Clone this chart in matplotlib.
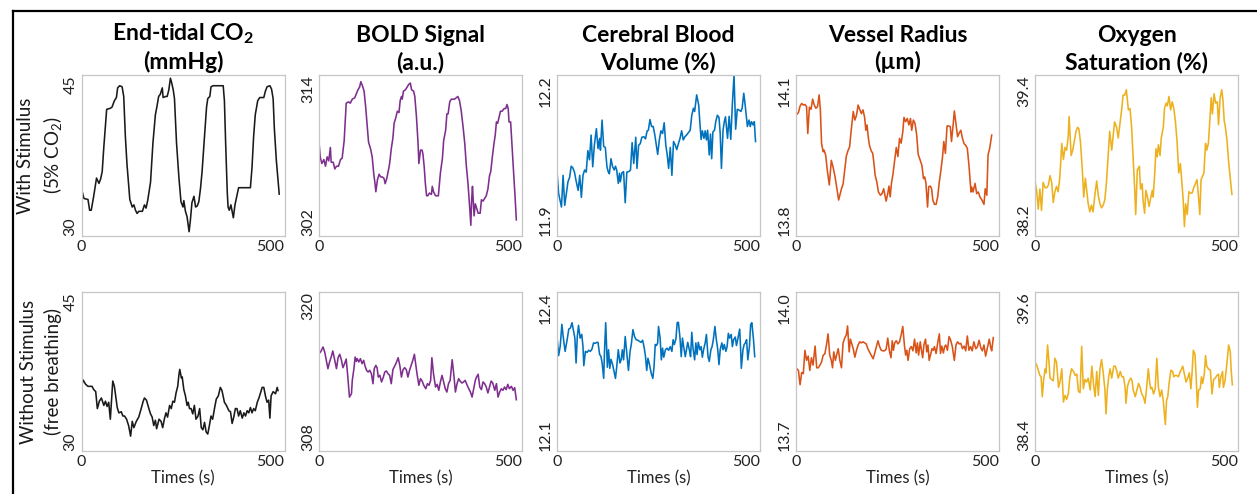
import numpy as np
import matplotlib
matplotlib.use("Agg")
import matplotlib.pyplot as plt
from matplotlib.lines import Line2D

plt.rcParams["font.family"] = ["Lato", "DejaVu Sans"]
plt.rcParams["mathtext.fontset"] = "custom"
plt.rcParams["mathtext.rm"] = "Lato"
plt.rcParams["mathtext.bf"] = "Lato:bold"

# ---- end-tidal CO2 (mmHg) ----
co2StimT = [0, 6, 16, 20, 24, 30, 37, 43, 47, 51, 55, 62, 71, 75, 81, 86, 89, 94, 100, 104, 108, 112, 119, 125, 129,
            133, 137, 141, 150, 155, 159, 163, 170, 176, 182, 186, 190, 194, 199, 201, 207, 211, 215, 219, 222, 226,
            229, 234, 240, 245, 250, 252, 256, 260, 265, 268, 272, 277, 281, 285, 289, 293, 297, 303, 308, 311, 316,
            319, 324, 349, 352, 355, 359, 361, 364, 368, 374, 378, 383, 387, 408, 416, 420, 424, 428, 434, 439, 449,
            453, 457, 464, 468, 472, 475, 480, 487]
co2Stim = [34.4, 33.5, 33.4, 32.4, 32.4, 33.7, 35.4, 34.9, 35.3, 36.0, 38.3, 41.8, 41.9, 42.0, 42.6, 42.9, 43.8, 44.0,
           43.9, 43.0, 39.3, 36.7, 33.4, 32.7, 32.9, 32.4, 32.1, 32.3, 32.3, 32.9, 32.6, 33.3, 35.0, 38.7, 41.3, 42.1,
           43.0, 43.2, 43.8, 42.9, 43.0, 43.0, 43.6, 44.7, 44.3, 43.6, 42.8, 38.7, 35.4, 33.2, 32.7, 33.3, 32.3, 31.8,
           30.4, 31.4, 33.1, 33.7, 32.7, 32.8, 33.2, 34.4, 36.0, 39.3, 42.0, 42.8, 43.0, 43.9, 44.0, 44.0, 42.6, 38.7,
           34.1, 32.7, 32.4, 32.9, 31.7, 32.9, 33.8, 34.5, 34.5, 34.5, 36.4, 39.3, 41.3, 42.6, 42.9, 42.9, 43.5, 43.9,
           44.0, 43.7, 42.8, 40.0, 37.0, 33.9]

co2FreeT = [0, 4, 10, 16, 26, 30, 35, 39, 44, 49, 55, 59, 63, 67, 71, 77, 81, 88, 92, 98, 102, 106, 111, 116, 121, 125,
            129, 135, 141, 147, 152, 155, 160, 166, 170, 174, 178, 182, 185, 191, 196, 200, 204, 208, 212, 217, 221,
            225, 229, 233, 237, 240, 242, 246, 248, 252, 256, 260, 263, 266, 270, 274, 278, 282, 287, 291, 295, 299,
            303, 307, 311, 315, 319, 323, 328, 332, 337, 342, 346, 352, 357, 363, 367, 371, 375, 379, 383, 387, 391,
            396, 400, 404, 408, 412, 416, 420, 424, 428, 433, 437, 441, 445, 449, 453, 457, 461, 464, 467, 472, 475,
            478, 482, 484]
co2Free = [36.1, 36.7, 36.3, 36.1, 36.1, 35.8, 35.6, 34.0, 34.7, 35.0, 34.3, 34.7, 34.2, 34.6, 33.0, 36.6, 36.1, 34.1,
           33.6, 33.7, 33.3, 33.3, 33.0, 32.4, 31.4, 32.8, 32.2, 32.8, 33.2, 34.0, 34.7, 35.0, 34.8, 34.0, 33.5, 33.2,
           32.4, 32.9, 32.1, 33.0, 32.8, 32.2, 33.0, 33.6, 33.2, 34.3, 34.0, 34.7, 34.6, 35.5, 36.1, 37.2, 37.7, 36.9,
           37.0, 35.8, 35.2, 34.3, 34.6, 34.0, 34.0, 33.5, 34.3, 33.0, 33.3, 34.0, 32.2, 32.0, 32.7, 31.8, 31.6, 32.4,
           33.3, 33.0, 34.1, 34.9, 35.2, 36.0, 35.7, 34.6, 34.3, 33.8, 33.7, 32.6, 33.2, 34.0, 34.0, 33.3, 33.8, 33.1,
           33.6, 33.3, 33.8, 33.6, 34.1, 33.6, 34.0, 33.8, 34.6, 35.0, 35.5, 36.0, 36.0, 35.2, 34.6, 34.8, 33.1, 35.2,
           35.6, 35.5, 35.4, 36.0, 35.7]

# ---- BOLD signal (a.u.) ----
boldStimT = [0, 3, 7, 12, 16, 20, 24, 28, 30, 35, 39, 43, 48, 53, 57, 62, 65, 67, 73, 77, 82, 88, 92, 96, 100, 103, 107,
             111, 115, 119, 122, 127, 131, 135, 138, 140, 144, 148, 152, 156, 160, 163, 167, 171, 174, 178, 182, 185,
             189, 193, 197, 200, 203, 205, 208, 213, 217, 221, 225, 228, 233, 236, 240, 244, 246, 250, 254, 256, 259,
             262, 265, 268, 272, 277, 279, 282, 287, 291, 294, 299, 304, 307, 312, 315, 318, 322, 326, 334, 338, 342,
             346, 350, 355, 359, 363, 367, 371, 374, 376, 378, 382, 385, 389, 392, 397, 400, 404, 408, 412, 416, 420,
             423, 427, 431, 434, 437, 440, 443, 447, 451, 456, 460, 463, 466, 468, 472, 475, 479, 483, 486]
boldStim = [309.0, 307.9, 307.4, 307.7, 307.2, 307.9, 307.6, 308.6, 307.5, 307.5, 307.0, 307.2, 307.2, 307.7, 307.8,
            309.1, 310.8, 311.9, 312.0, 311.9, 312.2, 312.3, 312.6, 312.9, 313.1, 313.5, 313.2, 312.8, 311.6, 310.1,
            309.0, 308.5, 307.9, 306.6, 305.9, 305.3, 306.2, 306.6, 306.4, 306.4, 306.3, 305.9, 306.3, 306.9, 307.4,
            308.5, 309.3, 310.4, 310.8, 311.3, 311.2, 312.1, 312.4, 312.2, 312.8, 312.9, 313.1, 313.3, 313.4, 312.9,
            312.8, 312.4, 310.9, 308.9, 307.4, 308.4, 308.4, 308.1, 307.2, 305.9, 305.0, 305.0, 305.2, 305.1, 305.7,
            305.3, 305.0, 305.0, 305.0, 306.7, 307.8, 309.1, 309.9, 311.1, 311.1, 312.0, 312.2, 312.2, 312.3, 312.4,
            312.1, 311.4, 310.1, 308.9, 307.2, 305.9, 304.2, 302.8, 304.7, 305.7, 303.5, 304.4, 304.0, 303.7, 303.7,
            304.7, 304.6, 304.8, 305.0, 305.5, 306.5, 306.8, 307.9, 308.9, 309.5, 310.5, 310.4, 310.8, 311.3, 311.3,
            311.5, 311.5, 311.8, 311.5, 310.5, 310.5, 308.9, 306.9, 304.9, 303.2]

boldFreeT = [0, 4, 10, 14, 18, 22, 26, 30, 34, 38, 43, 47, 51, 55, 59, 63, 67, 71, 75, 80, 82, 86, 89, 92, 94, 98, 102,
             106, 110, 113, 117, 121, 125, 129, 133, 136, 140, 143, 146, 150, 154, 158, 162, 166, 170, 174, 178, 182,
             186, 190, 195, 199, 203, 207, 211, 215, 219, 223, 227, 231, 235, 238, 242, 246, 250, 254, 258, 263, 267,
             271, 275, 278, 282, 287, 291, 295, 299, 303, 307, 311, 315, 319, 323, 328, 332, 336, 340, 344, 348, 352,
             356, 360, 365, 369, 373, 377, 381, 385, 388, 392, 396, 400, 404, 408, 412, 416, 420, 424, 428, 433, 437,
             441, 445, 449, 453, 457, 461, 465, 469, 474, 478, 482, 486]
boldFree = [315.35, 315.48, 315.85, 315.48, 314.84, 314.21, 314.72, 315.09, 315.55, 314.97, 314.21, 315.04, 315.30,
            314.89, 314.29, 314.59, 314.94, 313.58, 312.07, 312.33, 313.33, 314.21, 315.09, 314.77, 314.97, 314.72,
            314.97, 314.59, 314.84, 314.46, 314.09, 313.96, 314.09, 313.84, 313.08, 314.21, 314.46, 314.29, 313.58,
            313.71, 313.21, 313.53, 313.96, 314.04, 313.84, 313.71, 313.08, 314.14, 314.39, 314.64, 315.04, 314.46,
            313.58, 314.14, 314.29, 314.14, 313.58, 314.09, 314.46, 314.84, 315.30, 314.59, 313.71, 312.96, 313.46,
            313.28, 312.96, 312.70, 313.08, 312.96, 313.33, 315.04, 313.84, 312.83, 313.03, 312.58, 313.21, 313.71,
            313.21, 312.70, 312.45, 313.08, 313.33, 314.89, 313.79, 312.45, 313.08, 313.46, 313.26, 313.13, 313.21,
            313.33, 312.96, 312.70, 312.45, 312.07, 312.70, 313.33, 313.58, 313.79, 312.83, 312.63, 313.21, 313.08,
            312.83, 312.38, 312.83, 313.28, 313.13, 312.58, 313.08, 312.07, 312.45, 312.70, 312.58, 312.83, 312.63,
            313.03, 312.70, 312.88, 312.58, 312.78, 311.87]

# ---- cerebral blood volume (%) ----
cbvStimT = [0, 4, 11, 15, 19, 23, 27, 31, 35, 39, 43, 47, 52, 56, 60, 64, 68, 72, 76, 80, 84, 88, 92, 97, 101, 105, 107,
            111, 115, 119, 123, 126, 129, 133, 137, 141, 144, 147, 151, 154, 156, 160, 164, 168, 172, 177, 181, 185,
            189, 194, 197, 201, 205, 209, 214, 218, 222, 225, 229, 233, 237, 241, 244, 248, 252, 256, 260, 264, 268,
            271, 275, 279, 283, 287, 291, 295, 299, 303, 307, 311, 315, 319, 323, 328, 332, 336, 339, 344, 349, 352,
            355, 358, 362, 365, 368, 371, 375, 378, 381, 384, 388, 391, 395, 399, 402, 405, 409, 412, 415, 420, 424,
            428, 432, 436, 440, 444, 448, 453, 456, 460, 463, 466, 469, 473, 476, 479, 483, 486, 489]
cbvStim = [12.020, 11.979, 11.954, 12.013, 11.957, 11.979, 12.001, 12.009, 12.030, 12.027, 12.019, 12.003, 11.985,
           12.013, 11.972, 12.013, 12.023, 12.019, 12.059, 12.042, 12.088, 12.029, 12.069, 12.100, 12.063, 12.082,
           12.060, 12.116, 12.067, 12.065, 12.029, 12.020, 12.016, 12.044, 12.029, 12.023, 12.030, 12.023, 11.998,
           12.017, 12.001, 12.018, 12.020, 11.962, 12.019, 12.020, 12.023, 12.074, 12.035, 12.084, 12.026, 12.069,
           12.072, 12.084, 12.085, 12.081, 12.096, 12.097, 12.117, 12.104, 12.104, 12.088, 12.072, 12.052, 12.079,
           12.096, 12.091, 12.111, 12.069, 12.054, 12.026, 12.065, 12.013, 12.076, 12.070, 12.061, 12.072, 12.082,
           12.096, 12.079, 12.085, 12.088, 12.092, 12.097, 12.125, 12.138, 12.132, 12.163, 12.144, 12.110, 12.080,
           12.096, 12.082, 12.096, 12.079, 12.097, 12.051, 12.090, 12.044, 12.094, 12.097, 12.113, 12.125, 12.121,
           12.091, 12.026, 12.097, 12.113, 12.122, 12.082, 12.123, 12.080, 12.147, 12.200, 12.099, 12.136, 12.135,
           12.132, 12.138, 12.166, 12.147, 12.125, 12.104, 12.116, 12.104, 12.113, 12.107, 12.113, 12.076]

cbvFreeT = [0, 4, 8, 12, 16, 20, 25, 29, 33, 37, 41, 44, 47, 50, 53, 57, 61, 64, 66, 70, 74, 78, 82, 86, 90, 94, 98, 101,
            105, 108, 111, 115, 117, 120, 124, 127, 130, 133, 137, 140, 144, 147, 151, 155, 158, 161, 164, 168, 172,
            176, 180, 183, 187, 191, 195, 199, 203, 207, 211, 215, 218, 221, 224, 227, 232, 236, 239, 242, 245, 248,
            250, 254, 257, 260, 263, 267, 271, 275, 279, 283, 286, 289, 293, 296, 299, 303, 306, 309, 312, 316, 319,
            322, 326, 329, 332, 335, 339, 342, 345, 348, 352, 355, 358, 361, 365, 368, 372, 375, 379, 382, 385, 389,
            392, 396, 399, 402, 406, 409, 412, 416, 419, 422, 425, 429, 432, 435, 439, 442, 445, 450, 452, 454, 458,
            461, 464, 467, 470, 474, 477, 480, 484, 487]
cbvFree = [12.316, 12.280, 12.298, 12.339, 12.311, 12.288, 12.310, 12.330, 12.332, 12.342, 12.326, 12.313, 12.266,
           12.316, 12.337, 12.313, 12.320, 12.297, 12.261, 12.288, 12.286, 12.290, 12.288, 12.292, 12.304, 12.303,
           12.305, 12.305, 12.282, 12.279, 12.267, 12.237, 12.288, 12.342, 12.258, 12.291, 12.256, 12.273, 12.263,
           12.252, 12.237, 12.258, 12.291, 12.266, 12.272, 12.291, 12.272, 12.316, 12.285, 12.252, 12.288, 12.301,
           12.329, 12.316, 12.310, 12.309, 12.307, 12.305, 12.309, 12.294, 12.278, 12.252, 12.275, 12.266, 12.247,
           12.237, 12.259, 12.301, 12.299, 12.304, 12.335, 12.313, 12.272, 12.294, 12.277, 12.291, 12.294, 12.290,
           12.297, 12.288, 12.310, 12.301, 12.312, 12.342, 12.343, 12.313, 12.278, 12.313, 12.297, 12.278, 12.291,
           12.305, 12.291, 12.278, 12.324, 12.294, 12.272, 12.304, 12.282, 12.305, 12.291, 12.297, 12.277, 12.291,
           12.304, 12.320, 12.278, 12.269, 12.291, 12.297, 12.310, 12.335, 12.313, 12.291, 12.263, 12.291, 12.304,
           12.291, 12.301, 12.288, 12.297, 12.322, 12.313, 12.320, 12.297, 12.310, 12.315, 12.299, 12.310, 12.330,
           12.297, 12.256, 12.291, 12.301, 12.304, 12.310, 12.272, 12.297, 12.339, 12.342, 12.310, 12.278]

# ---- vessel radius (um) ----
radStimT = [0, 6, 10, 14, 18, 22, 26, 29, 33, 37, 41, 45, 49, 53, 57, 60, 63, 67, 69, 73, 77, 82, 87, 92, 96, 100, 105,
            108, 112, 116, 120, 124, 128, 132, 136, 141, 145, 149, 153, 157, 161, 165, 169, 172, 175, 178, 181, 185,
            189, 192, 195, 199, 203, 208, 212, 216, 218, 222, 226, 229, 232, 235, 239, 243, 247, 251, 255, 259, 263,
            266, 270, 274, 278, 282, 285, 289, 293, 297, 301, 306, 310, 314, 317, 320, 324, 327, 331, 334, 337, 341,
            345, 349, 353, 357, 361, 364, 368, 372, 376, 380, 383, 387, 390, 394, 398, 402, 406, 410, 414, 418, 422,
            426, 431, 433, 436, 441, 445, 449, 453, 458, 463, 466, 470, 473, 477, 482]
radStim = [14.025, 14.030, 14.042, 14.047, 14.044, 14.045, 14.041, 13.991, 14.040, 14.036, 14.055, 14.044, 14.038,
           14.041, 14.063, 14.035, 13.972, 13.957, 13.960, 13.951, 13.923, 13.895, 13.941, 13.926, 13.911, 13.892,
           13.867, 13.876, 13.888, 13.897, 13.923, 13.949, 13.959, 13.966, 13.997, 14.032, 14.016, 14.025, 14.044,
           14.036, 14.028, 14.035, 14.021, 13.997, 14.007, 13.984, 13.969, 13.959, 13.954, 13.935, 13.913, 13.901,
           13.882, 13.876, 13.879, 13.888, 13.880, 13.865, 13.879, 13.893, 13.873, 13.898, 13.916, 13.941, 13.965,
           13.948, 13.982, 13.973, 13.994, 14.021, 14.013, 14.019, 14.007, 14.019, 13.997, 14.016, 14.010, 13.990,
           13.952, 13.941, 13.932, 13.907, 13.910, 13.899, 13.854, 13.892, 13.893, 13.888, 13.867, 13.859, 13.859,
           13.873, 13.901, 13.923, 13.948, 13.976, 13.954, 14.005, 14.005, 14.004, 13.976, 14.007, 14.033, 14.009,
           13.985, 13.992, 13.997, 13.982, 13.972, 13.969, 13.963, 13.932, 13.882, 13.891, 13.882, 13.898, 13.879,
           13.882, 13.873, 13.867, 13.859, 13.888, 13.876, 13.951, 13.963, 13.988]

radFreeT = [0, 6, 10, 14, 18, 22, 26, 30, 34, 38, 42, 47, 51, 55, 59, 63, 67, 71, 75, 79, 83, 87, 90, 93, 97, 100, 104,
            108, 112, 116, 120, 124, 127, 131, 134, 137, 141, 145, 149, 153, 157, 161, 165, 169, 173, 177, 181, 185,
            190, 194, 198, 202, 206, 210, 214, 218, 222, 226, 230, 234, 237, 240, 243, 247, 251, 255, 259, 263, 267,
            270, 273, 276, 280, 284, 288, 292, 296, 299, 302, 306, 309, 312, 315, 319, 322, 325, 328, 332, 335, 338,
            341, 345, 349, 353, 356, 359, 363, 366, 369, 373, 377, 381, 385, 390, 394, 398, 402, 406, 410, 414, 418,
            422, 426, 430, 434, 438, 443, 447, 451, 455, 459, 463, 467, 472, 476, 480, 482, 486]
radFree = [13.857, 13.852, 13.825, 13.848, 13.846, 13.890, 13.871, 13.879, 13.852, 13.876, 13.862, 13.898, 13.857,
           13.857, 13.862, 13.868, 13.881, 13.883, 13.900, 13.921, 13.881, 13.871, 13.857, 13.887, 13.871, 13.881,
           13.893, 13.871, 13.857, 13.904, 13.913, 13.919, 13.936, 13.887, 13.911, 13.903, 13.893, 13.877, 13.890,
           13.900, 13.906, 13.904, 13.906, 13.904, 13.902, 13.893, 13.887, 13.881, 13.874, 13.885, 13.897, 13.908,
           13.897, 13.890, 13.889, 13.889, 13.892, 13.913, 13.889, 13.876, 13.908, 13.890, 13.904, 13.908, 13.902,
           13.906, 13.919, 13.935, 13.900, 13.881, 13.890, 13.871, 13.893, 13.897, 13.889, 13.911, 13.885, 13.904,
           13.881, 13.906, 13.890, 13.876, 13.900, 13.911, 13.887, 13.900, 13.871, 13.884, 13.893, 13.890, 13.897,
           13.884, 13.904, 13.921, 13.884, 13.898, 13.885, 13.897, 13.900, 13.890, 13.916, 13.909, 13.897, 13.871,
           13.900, 13.906, 13.902, 13.903, 13.893, 13.898, 13.889, 13.917, 13.890, 13.897, 13.889, 13.906, 13.893,
           13.897, 13.909, 13.895, 13.889, 13.900, 13.879, 13.897, 13.911, 13.894, 13.889, 13.914]

# ---- oxygen saturation (%) ----
so2StimT = [0, 4, 8, 12, 16, 20, 25, 29, 33, 37, 41, 45, 49, 53, 57, 61, 66, 70, 74, 78, 82, 84, 89, 93, 97, 101, 105,
            108, 112, 117, 120, 124, 127, 131, 135, 139, 143, 148, 152, 156, 160, 164, 168, 172, 176, 180, 184, 189,
            193, 196, 201, 205, 209, 213, 217, 221, 225, 230, 234, 238, 242, 246, 248, 252, 257, 260, 264, 266, 270,
            273, 277, 281, 284, 289, 291, 295, 298, 301, 304, 308, 311, 316, 319, 323, 326, 330, 334, 338, 342, 346,
            350, 354, 358, 361, 365, 368, 371, 375, 379, 383, 387, 391, 395, 399, 402, 406, 409, 412, 416, 420, 423,
            427, 430, 434, 437, 441, 445, 449, 452, 456, 460, 463, 466, 469, 473, 477, 481, 485]
so2Stim = [38.61, 38.54, 38.40, 38.55, 38.39, 38.60, 38.56, 38.56, 38.58, 38.65, 38.60, 38.45, 38.53, 38.57, 38.53,
           38.63, 38.89, 38.77, 38.86, 38.84, 38.95, 39.09, 38.80, 38.84, 38.91, 38.98, 39.01, 39.00, 38.90, 38.67,
           38.49, 38.63, 38.55, 38.44, 38.38, 38.43, 38.38, 38.52, 38.61, 38.50, 38.44, 38.41, 38.43, 38.47, 38.60,
           38.79, 38.98, 38.84, 38.96, 39.05, 39.01, 38.93, 39.03, 39.13, 39.25, 39.25, 39.29, 39.14, 39.15, 39.01,
           38.77, 38.52, 38.36, 38.69, 38.72, 38.55, 38.59, 38.47, 38.37, 38.54, 38.49, 38.42, 38.47, 38.54, 38.49,
           38.67, 38.85, 38.79, 38.88, 38.80, 38.93, 39.01, 39.15, 39.19, 39.17, 39.24, 39.14, 39.20, 39.15, 39.05,
           38.90, 38.67, 38.74, 38.63, 38.47, 38.27, 38.44, 38.36, 38.53, 38.52, 38.52, 38.56, 38.59, 38.62, 38.52,
           38.36, 38.62, 38.64, 38.67, 38.89, 38.84, 38.89, 39.03, 39.23, 39.11, 39.26, 39.19, 39.20, 39.03, 39.23,
           39.29, 39.21, 39.06, 39.01, 38.91, 38.75, 38.63, 38.51]

so2FreeT = [0, 4, 8, 12, 15, 18, 21, 25, 27, 31, 35, 37, 41, 45, 49, 53, 58, 62, 66, 70, 74, 78, 82, 86, 90, 95, 99,
            103, 107, 111, 115, 119, 123, 127, 131, 136, 140, 144, 148, 152, 156, 160, 164, 168, 172, 175, 178, 182,
            185, 189, 194, 198, 201, 205, 210, 214, 218, 222, 224, 228, 232, 236, 239, 242, 247, 251, 255, 259, 263,
            267, 271, 275, 279, 282, 285, 288, 292, 296, 300, 304, 308, 312, 316, 321, 324, 327, 331, 335, 339, 342,
            345, 349, 353, 358, 361, 364, 368, 372, 376, 380, 384, 387, 390, 394, 397, 400, 403, 407, 410, 413, 417,
            420, 423, 427, 432, 436, 440, 444, 448, 452, 454, 458, 462, 464, 468, 473, 477, 481, 483, 486]
so2Free = [39.07, 39.05, 39.01, 38.97, 38.96, 38.81, 38.93, 39.02, 38.99, 39.20, 39.05, 38.95, 38.94, 38.93, 39.10,
           39.07, 38.88, 38.93, 39.02, 38.77, 38.82, 38.79, 38.83, 38.96, 39.02, 39.00, 38.97, 38.98, 38.85, 38.84,
           39.19, 38.87, 38.94, 38.92, 38.95, 38.86, 39.04, 38.91, 38.81, 39.00, 38.82, 39.02, 39.09, 38.99, 38.87,
           38.68, 38.86, 38.97, 39.02, 38.95, 39.04, 39.04, 39.01, 38.95, 39.00, 38.96, 38.96, 38.88, 38.76, 38.89,
           38.93, 38.95, 38.93, 38.86, 38.81, 38.86, 38.91, 38.88, 38.83, 38.81, 38.76, 38.88, 39.02, 38.93, 38.87,
           38.88, 38.83, 38.87, 39.10, 38.88, 38.81, 38.86, 38.78, 38.60, 38.78, 38.81, 38.93, 39.01, 39.00, 38.96,
           38.97, 38.97, 38.96, 39.00, 39.02, 39.04, 38.98, 38.92, 38.95, 38.99, 38.87, 39.00, 39.16, 39.13, 38.96,
           38.73, 38.86, 38.87, 38.96, 38.91, 38.98, 39.12, 39.04, 39.02, 39.01, 38.83, 38.94, 38.95, 38.97, 38.98,
           38.88, 38.96, 39.00, 38.88, 38.93, 39.07, 39.20, 39.15, 39.02, 38.90]

titles = ["End-tidal CO$_\\mathbf{2}$\n(mmHg)", "BOLD Signal\n(a.u.)", "Cerebral Blood\nVolume (%)",
          "Vessel Radius\n(\u00b5m)", "Oxygen\nSaturation (%)"]
rowLabels = ["With Stimulus\n(5% CO$_2$)", "Without Stimulus\n(free breathing)"]
colors = ["#1a1a1a", "#7E2F8E", "#0072BD", "#D95319", "#EDB120"]

stimSeries = [(co2StimT, co2Stim), (boldStimT, boldStim), (cbvStimT, cbvStim), (radStimT, radStim), (so2StimT, so2Stim)]
freeSeries = [(co2FreeT, co2Free), (boldFreeT, boldFree), (cbvFreeT, cbvFree), (radFreeT, radFree), (so2FreeT, so2Free)]
stimLimits = [(30, 45), (302, 314), (11.9, 12.2), (13.8, 14.1), (38.2, 39.4)]
freeLimits = [(30, 45), (308, 320), (12.1, 12.4), (13.7, 14.0), (38.4, 39.6)]
stimTickText = [["30", "45"], ["302", "314"], ["11.9", "12.2"], ["13.8", "14.1"], ["38.2", "39.4"]]
freeTickText = [["30", "45"], ["308", "320"], ["12.1", "12.4"], ["13.7", "14.0"], ["38.4", "39.6"]]

W, H = 1257, 494
fig = plt.figure(figsize=(W / 100, H / 100), dpi=100)

colLeft = [81.5, 319, 557, 796, 1035]
colWidth = 203
rowTop = [75, 292]
rowBottom = [236, 451]


def drawPanel(ax, t, v, color, lims, tickText, showXLabel):
    ax.plot(t, v, color=color, lw=1.15)
    ax.set_xlim(0, 500)
    ax.set_ylim(*lims)
    ax.set_xticks([0, 500])
    ax.set_xticklabels(["0", "500"])
    ax.set_yticks(list(lims))
    ax.set_yticklabels(tickText, rotation=90)
    ax.tick_params(length=0, labelsize=11.5, colors="#222222", pad=3)
    for lbl, va in zip(ax.get_yticklabels(), ["bottom", "top"]):
        lbl.set_va(va)
    for lbl, ha in zip(ax.get_xticklabels(), ["center", "right"]):
        lbl.set_ha(ha)
    for sp in ax.spines.values():
        sp.set_color("#c6c6c6")
        sp.set_linewidth(0.9)
    if showXLabel:
        ax.set_xlabel("Times (s)", fontsize=12, labelpad=1, color="#222222")


for row in range(2):
    series = stimSeries if row == 0 else freeSeries
    limits = stimLimits if row == 0 else freeLimits
    tickTexts = stimTickText if row == 0 else freeTickText
    for col in range(5):
        rect = [colLeft[col] / W, 1 - rowBottom[row] / H, colWidth / W, (rowBottom[row] - rowTop[row]) / H]
        ax = fig.add_axes(rect)
        t, v = series[col]
        drawPanel(ax, t, v, colors[col], limits[col], tickTexts[col], row == 1)
        if row == 0:
            ax.set_title(titles[col], fontsize=16.5, fontweight="bold", pad=4, linespacing=1.32)

# row labels on the left
for row in range(2):
    yc = 1 - (rowTop[row] + rowBottom[row]) / 2 / H
    fig.text(41 / W, yc, rowLabels[row], rotation=90, fontsize=13.5, ha="center", va="center",
             linespacing=1.4, color="#1a1a1a")

# black frame on the top and left edge
fig.add_artist(Line2D([12.5 / W, 12.5 / W], [0, 1 - 11 / H], color="black", lw=1.6))
fig.add_artist(Line2D([12.5 / W, 1], [1 - 11 / H, 1 - 11 / H], color="black", lw=1.6))

fig.savefig("out.png", dpi=100)
